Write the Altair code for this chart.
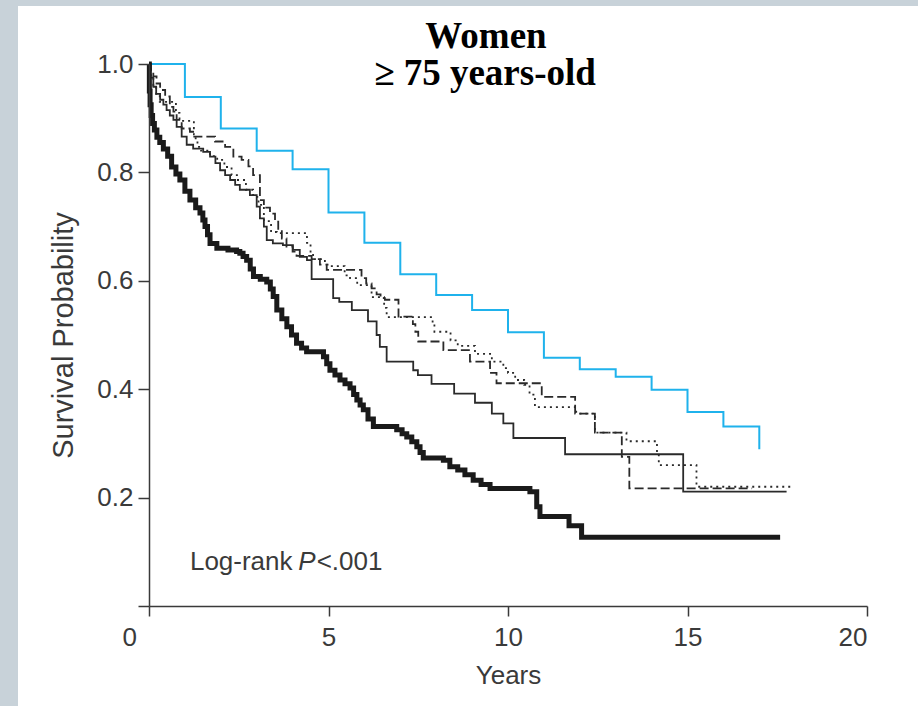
import altair as alt
import pandas as pd

# Kaplan-Meier survival estimates (years, survival probability) per group
blue_t = [0, 1, 2, 3, 4, 5, 6, 7, 8, 9, 10, 11, 12, 13, 14, 15, 16, 17]
blue_s = [1.0, 0.939, 0.881, 0.840, 0.806, 0.726, 0.670, 0.612, 0.574, 0.546,
          0.505, 0.458, 0.437, 0.423, 0.399, 0.358, 0.331, 0.289]

thick_t = [0, 0.01, 0.03, 0.06, 0.1, 0.15, 0.22, 0.3, 0.4, 0.52, 0.63, 0.75, 0.86, 1.0, 1.14,
           1.3, 1.42, 1.5, 1.56, 1.63, 1.7, 1.89, 2.2, 2.44, 2.53, 2.62, 2.72, 2.82, 2.91, 3.1,
           3.28, 3.38, 3.46, 3.56, 3.7, 3.84, 3.97, 4.11, 4.25, 4.39, 4.86, 4.95, 5.04, 5.18, 5.32,
           5.46, 5.6, 5.7, 5.79, 5.88, 5.97, 6.1, 6.25, 6.9, 7.05, 7.18, 7.32, 7.46, 7.55, 7.64,
           8.2, 8.38, 8.6, 8.8, 9.03, 9.25, 9.5, 10.61, 10.8, 10.89, 11.7, 12.05, 17.58]
thick_s = [1.0, 0.95, 0.925, 0.905, 0.89, 0.878, 0.865, 0.855, 0.843, 0.83, 0.81, 0.797, 0.786, 0.765, 0.749,
           0.735, 0.725, 0.712, 0.70, 0.685, 0.669, 0.66, 0.657, 0.654, 0.651, 0.645, 0.638, 0.622, 0.608, 0.603,
           0.598, 0.585, 0.571, 0.546, 0.53, 0.515, 0.5, 0.485, 0.476, 0.469, 0.46, 0.447, 0.435, 0.426, 0.417,
           0.41, 0.402, 0.39, 0.38, 0.371, 0.362, 0.345, 0.331, 0.325, 0.318, 0.312, 0.303, 0.294, 0.283, 0.273,
           0.269, 0.257, 0.251, 0.242, 0.232, 0.224, 0.217, 0.211, 0.183, 0.165, 0.148, 0.127, 0.127]

solid_t = [0, 0.03, 0.12, 0.2, 0.31, 0.4, 0.49, 0.58, 0.68, 0.77, 0.91, 1.05, 1.23, 1.51, 1.70,
           1.85, 1.98, 2.12, 2.26, 2.4, 2.53, 2.81, 3.0, 3.09, 3.2, 3.28, 3.45, 3.73, 4.01, 4.2,
           4.4, 4.53, 5.13, 5.3, 5.65, 6.1, 6.34, 6.43, 6.62, 7.36, 7.49, 7.87, 8.5, 9.08, 9.55,
           9.87, 10.15, 11.59, 14.88, 17.76]
solid_s = [1.0, 0.975, 0.958, 0.945, 0.934, 0.925, 0.915, 0.905, 0.897, 0.884, 0.866, 0.851, 0.844, 0.838, 0.829,
           0.817, 0.804, 0.795, 0.786, 0.777, 0.768, 0.758, 0.737, 0.715, 0.70, 0.675, 0.669, 0.666, 0.657, 0.644,
           0.638, 0.603, 0.568, 0.561, 0.546, 0.525, 0.50, 0.478, 0.451, 0.435, 0.426, 0.41, 0.392, 0.375, 0.355,
           0.337, 0.31, 0.28, 0.211, 0.211]

dashed_t = [0, 0.05, 0.12, 0.21, 0.31, 0.45, 0.58, 0.68, 0.77, 0.91, 1.14, 1.23, 1.84, 2.12, 2.35,
            2.58, 2.77, 2.9, 3.09, 3.2, 3.37, 3.51, 3.6, 3.7, 3.83, 4.0, 4.11, 4.53, 4.76, 4.95,
            5.92, 6.05, 6.2, 6.34, 6.45, 6.57, 6.95, 7.35, 7.42, 7.5, 8.2, 8.94, 9.5, 9.68, 10.94,
            11.87, 12.42, 13.17, 13.38, 16.8]
dashed_s = [1.0, 0.985, 0.977, 0.964, 0.952, 0.94, 0.921, 0.912, 0.897, 0.881, 0.875, 0.866, 0.857, 0.847, 0.829,
            0.823, 0.811, 0.795, 0.749, 0.735, 0.724, 0.709, 0.694, 0.678, 0.663, 0.654, 0.646, 0.64, 0.63, 0.62,
            0.605, 0.595, 0.586, 0.575, 0.568, 0.565, 0.534, 0.52, 0.506, 0.488, 0.472, 0.451, 0.43, 0.411, 0.386,
            0.355, 0.32, 0.275, 0.217, 0.217]

dotted_t = [0, 0.05, 0.12, 0.2, 0.3, 0.75, 0.85, 1.25, 1.3, 1.35, 1.45, 1.7, 1.9, 2.1, 2.3,
            2.45, 2.7, 2.9, 3.05, 3.2, 3.4, 3.56, 4.4, 4.5, 4.57, 4.9, 5.04, 5.45, 5.6, 5.8,
            6.2, 6.55, 6.62, 7.9, 7.95, 8.4, 8.6, 9.08, 9.55, 9.87, 10.0, 10.2, 10.45, 10.6, 10.75,
            11.9, 12.42, 13.3, 14.15, 14.2, 15.25, 17.9]
dotted_s = [1.0, 0.975, 0.96, 0.945, 0.93, 0.91, 0.895, 0.87, 0.86, 0.847, 0.84, 0.83, 0.823, 0.81, 0.795,
            0.786, 0.768, 0.755, 0.74, 0.71, 0.69, 0.688, 0.67, 0.65, 0.64, 0.63, 0.627, 0.61, 0.605, 0.592,
            0.57, 0.55, 0.533, 0.52, 0.506, 0.49, 0.48, 0.465, 0.451, 0.439, 0.43, 0.417, 0.408, 0.39, 0.367,
            0.355, 0.32, 0.304, 0.283, 0.26, 0.22, 0.22]

x_ticks = [0, 5, 10, 15, 20]
y_ticks = [0, 0.2, 0.4, 0.6, 0.8, 1.0]

note_years = [1.14, 4.16, 4.67]
note_surv = [0.066, 0.066, 0.066]
note_text = ["Log-rank", "P", "<.001"]

heading_lines = ["Women", "≥ 75 years-old"]

AXIS_GREY = "#3a3a3a"
SANS = "Liberation Sans"
SERIF = "Liberation Serif"

x_scale = alt.Scale(domain=[0, 20], nice=False, zero=False)
y_scale = alt.Scale(domain=[0, 1], nice=False)

x_axis = alt.Axis(
    values=x_ticks, grid=False, title="Years", tickSize=10, zindex=2,
    labelOffset={"condition": {"test": "datum.value === 0", "value": -27}, "value": 0},
    labelPadding=8, titlePadding=12,
)
y_axis = alt.Axis(
    values=y_ticks, grid=False, title="Survival Probability", tickSize=11, zindex=2,
    labelExpr="datum.value === 0 ? '' : format(datum.value, '.1f')",
    labelPadding=5, titlePadding=18, titleFontSize=29,
)


def km_curve(t, s, color, width, dash=None):
    df = pd.DataFrame({"years": t, "surv": s})
    mark = dict(interpolate="step-after", color=color, strokeWidth=width)
    if dash:
        mark["strokeDash"] = dash
    return alt.Chart(df).mark_line(**mark).encode(
        x=alt.X("years:Q", scale=x_scale, axis=x_axis),
        y=alt.Y("surv:Q", scale=y_scale, axis=y_axis),
    )


# white panel sitting on the grey page frame
panel = alt.Chart(pd.DataFrame({"k": [0]})).mark_rect(color="white").encode(
    x=alt.value(-131), x2=alt.value(769), y=alt.value(-58), y2=alt.value(642)
)

# two-line heading above the plot
heading_top = alt.Chart(pd.DataFrame({"line": heading_lines[:1]})).mark_text(
    align="center", baseline="alphabetic", font=SERIF, fontSize=37, fontWeight="bold", color="black"
).encode(x=alt.value(337), y=alt.value(-16), text="line:N")
heading_sub = alt.Chart(pd.DataFrame({"line": heading_lines[1:]})).mark_text(
    align="center", baseline="alphabetic", font=SERIF, fontSize=37, fontWeight="bold", color="black"
).encode(x=alt.value(336), y=alt.value(21), text="line:N")

notes = pd.DataFrame({"years": note_years, "surv": note_surv, "txt": note_text})
note_plain = alt.Chart(notes).transform_filter("datum.txt !== 'P'").mark_text(
    align="left", baseline="alphabetic", font=SANS, fontSize=26, color=AXIS_GREY
).encode(x=alt.X("years:Q", scale=x_scale), y=alt.Y("surv:Q", scale=y_scale), text="txt:N")
note_italic = alt.Chart(notes).transform_filter("datum.txt === 'P'").mark_text(
    align="left", baseline="alphabetic", font=SANS, fontSize=26, fontStyle="italic", color=AXIS_GREY
).encode(x=alt.X("years:Q", scale=x_scale), y=alt.Y("surv:Q", scale=y_scale), text="txt:N")

chart = alt.layer(
    panel,
    km_curve(blue_t, blue_s, "#1fb2ec", 2),
    km_curve(solid_t, solid_s, "#2a2a2a", 1.8),
    km_curve(dashed_t, dashed_s, "#2a2a2a", 1.8, [9, 4]),
    km_curve(dotted_t, dotted_s, "#2a2a2a", 1.8, [2, 4]),
    km_curve(thick_t, thick_s, "#1a1a1a", 5),
    note_plain,
    note_italic,
    heading_top,
    heading_sub,
).properties(
    width=718,
    height=542,
    autosize=alt.AutoSizeParams(type="none"),
    padding={"left": 149, "top": 64, "right": 51, "bottom": 100},
    background="#c8d2d9",
).configure_view(stroke=None).configure_axis(
    labelFont=SANS, labelFontSize=26, labelColor=AXIS_GREY,
    titleFont=SANS, titleFontSize=26, titleFontWeight="normal", titleColor=AXIS_GREY,
    domainColor=AXIS_GREY, tickColor=AXIS_GREY, domainWidth=1.5, tickWidth=1.5,
)

chart.save("out.html", embed_options={"renderer": "svg", "actions": False})
